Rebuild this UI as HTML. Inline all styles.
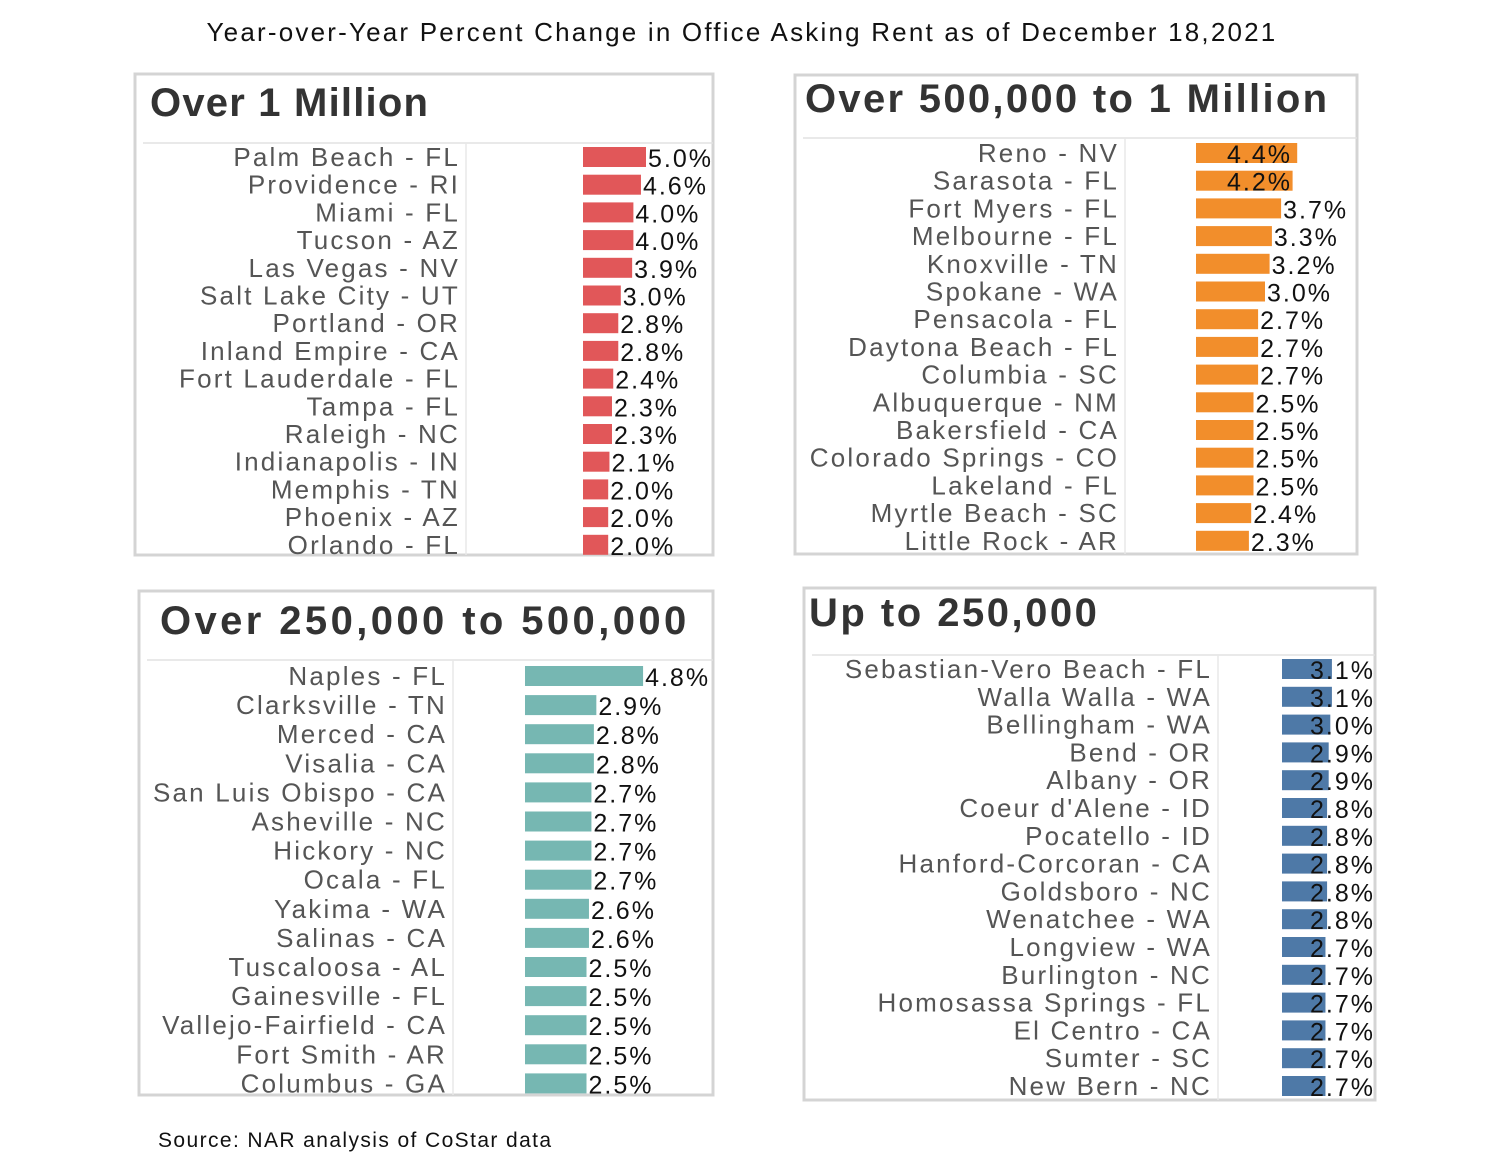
<!DOCTYPE html>
<html><head><meta charset="utf-8"><style>
body{margin:0;background:#fff;}
svg{display:block;font-family:"Liberation Sans",sans-serif;}
</style></head><body>
<svg id="c" width="1500" height="1163">
<text x="742" y="41" text-anchor="middle" font-size="26" letter-spacing="2.2" fill="#111">Year-over-Year Percent Change in Office Asking Rent as of December 18,2021</text>
<text x="158" y="1147" font-size="21" letter-spacing="1.4" fill="#111">Source: NAR analysis of CoStar data</text>
</svg>
<script>
const cities1=["Palm Beach - FL","Providence - RI","Miami - FL","Tucson - AZ","Las Vegas - NV","Salt Lake City - UT","Portland - OR","Inland Empire - CA","Fort Lauderdale - FL","Tampa - FL","Raleigh - NC","Indianapolis - IN","Memphis - TN","Phoenix - AZ","Orlando - FL"];
const values1=[5.0,4.6,4.0,4.0,3.9,3.0,2.8,2.8,2.4,2.3,2.3,2.1,2.0,2.0,2.0];
const cities2=["Reno - NV","Sarasota - FL","Fort Myers - FL","Melbourne - FL","Knoxville - TN","Spokane - WA","Pensacola - FL","Daytona Beach - FL","Columbia - SC","Albuquerque - NM","Bakersfield - CA","Colorado Springs - CO","Lakeland - FL","Myrtle Beach - SC","Little Rock - AR"];
const values2=[4.4,4.2,3.7,3.3,3.2,3.0,2.7,2.7,2.7,2.5,2.5,2.5,2.5,2.4,2.3];
const cities3=["Naples - FL","Clarksville - TN","Merced - CA","Visalia - CA","San Luis Obispo - CA","Asheville - NC","Hickory - NC","Ocala - FL","Yakima - WA","Salinas - CA","Tuscaloosa - AL","Gainesville - FL","Vallejo-Fairfield - CA","Fort Smith - AR","Columbus - GA"];
const values3=[4.8,2.9,2.8,2.8,2.7,2.7,2.7,2.7,2.6,2.6,2.5,2.5,2.5,2.5,2.5];
const cities4=["Sebastian-Vero Beach - FL","Walla Walla - WA","Bellingham - WA","Bend - OR","Albany - OR","Coeur d'Alene - ID","Pocatello - ID","Hanford-Corcoran - CA","Goldsboro - NC","Wenatchee - WA","Longview - WA","Burlington - NC","Homosassa Springs - FL","El Centro - CA","Sumter - SC","New Bern - NC"];
const values4=[3.1,3.1,3.0,2.9,2.9,2.8,2.8,2.8,2.8,2.8,2.7,2.7,2.7,2.7,2.7,2.7];
const titles=["Over 1 Million","Over 500,000 to 1 Million","Over 250,000 to 500,000","Up to 250,000"];

const NS="http://www.w3.org/2000/svg";
const svg=document.getElementById('c');
function mk(tag,attrs,parent){const e=document.createElementNS(NS,tag);for(const k in attrs)e.setAttribute(k,attrs[k]);(parent||svg).appendChild(e);return e;}

const panels=[
 {cities:cities1,values:values1,box:[135,74,578,481],tx:150,ty:116,tls:1.2,sep:143,div:466,lab:460,y0:157,dy:27.7,bx:583,ppu:12.6,color:"#e15759",mode:"after",limit:999,inEnd:0},
 {cities:cities2,values:values2,box:[795,75,562,479],tx:805,ty:112,tls:2.3,sep:138,div:1125,lab:1119,y0:153,dy:27.7,bx:1196,ppu:23,color:"#f28e2b",mode:"after",limit:1352,inEnd:1292},
 {cities:cities3,values:values3,box:[139,591,574,504],tx:160,ty:634,tls:3.4,sep:660,div:453,lab:447,y0:676,dy:29.1,bx:525,ppu:24.6,color:"#76b7b2",mode:"after",limit:999,inEnd:0},
 {cities:cities4,values:values4,box:[804,588,571,512],tx:809,ty:626,tls:2.5,sep:655,div:1218,lab:1212,y0:669,dy:27.8,bx:1282,ppu:16.1,color:"#4e79a7",mode:"right",limit:1375,inEnd:0}
];
panels.forEach((p,pi)=>{
 const g=mk('g',{});
 
 
 const b=mk('rect',{x:p.box[0],y:p.box[1],width:p.box[2],height:p.box[3],fill:'#fff',stroke:'#d4d4d4','stroke-width':3},g);
 
 
 const t=mk('text',{x:p.tx,y:p.ty,'font-size':40,'font-weight':'bold','letter-spacing':p.tls,fill:'#333'},g);
 t.textContent=titles[pi];
 
 
 mk('line',{x1:p.box[0]+8,x2:p.box[0]+p.box[2],y1:p.sep,y2:p.sep,stroke:'#e2e2e2','stroke-width':1.5},g);
 mk('line',{x1:p.div,x2:p.div,y1:p.sep,y2:p.box[1]+p.box[3],stroke:'#e8e8e8','stroke-width':1.5},g);
 p.cities.forEach((c,i)=>{
  const y=p.y0+i*p.dy, v=p.values[i], w=v*p.ppu;
  const l=mk('text',{x:p.lab,y:y+9,'text-anchor':'end','font-size':26,'letter-spacing':2.2,fill:'#555'},g);
  l.textContent=c;
  
  
  const r=mk('rect',{x:p.bx,y:y-10,width:w,height:20,fill:p.color},g);
  
  
  const txt=v.toFixed(1)+'%';
  let attrs;
  if(p.mode==='right') attrs={x:p.limit,'text-anchor':'end'};
  else if(p.bx+w+3+64>p.limit) attrs={x:p.inEnd,'text-anchor':'end'};
  else attrs={x:p.bx+w+2,'text-anchor':'start'};
  attrs.y=y+10;attrs['font-size']=25;attrs['letter-spacing']=2;attrs.fill='#111';
  const vt=mk('text',attrs,g);
  vt.textContent=txt;
  
  
 });
});
</script>
</body></html>
